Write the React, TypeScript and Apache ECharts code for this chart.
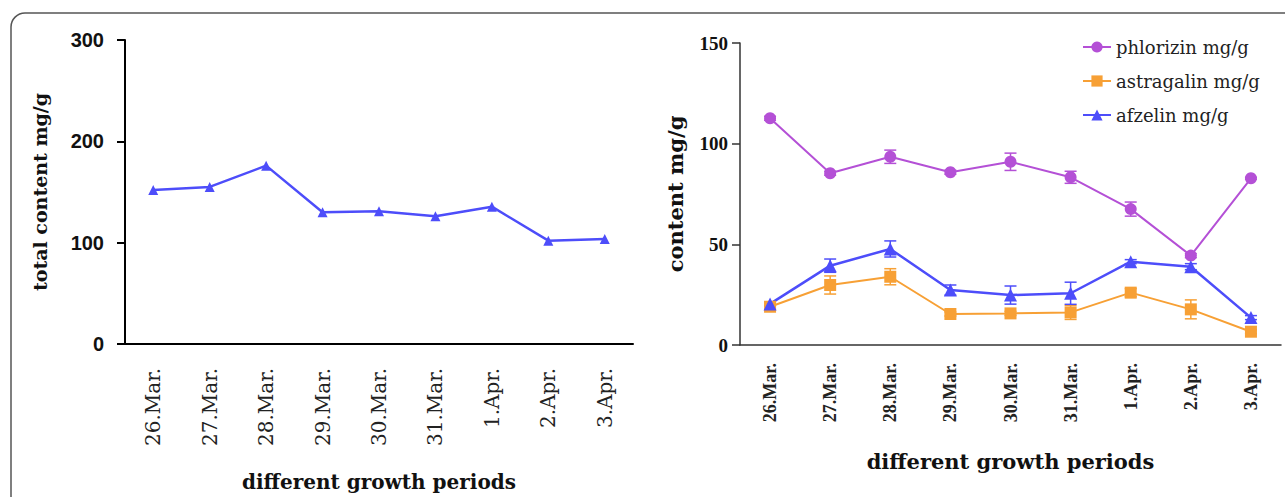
import React, { useEffect, useRef } from "react";
import * as echarts from "echarts";

const categories = ["26.Mar.", "27.Mar.", "28.Mar.", "29.Mar.", "30.Mar.", "31.Mar.", "1.Apr.", "2.Apr.", "3.Apr."];
const leftTicks = [0, 100, 200, 300];
const totalContent = [152, 155, 176, 130, 131, 126, 135.5, 102, 103.5];

const rightTicks = [0, 50, 100, 150];
const phlorizin = [112.6, 85.3, 93.5, 85.8, 91, 83.3, 67.5, 44.4, 82.8];
const astragalin = [19, 29.8, 33.9, 15.4, 15.7, 16.2, 26, 17.7, 6.6];
const afzelin = [20.4, 39.4, 47.7, 27.3, 24.8, 25.7, 41.4, 38.9, 13.6];
const phlorizinErr = [1, 1, 3.3, 1, 4.3, 3, 3.5, 1, 0.5];
const astragalinErr = [1.5, 4.5, 4, 1, 1, 3.5, 2, 4.7, 1];
const afzelinErr = [1, 3.3, 4, 2.5, 4.5, 5.5, 1, 1.5, 1];

const seriesNames = ["phlorizin mg/g", "astragalin mg/g", "afzelin mg/g"];
const PURPLE = "#b450d6";
const ORANGE = "#f7a035";
const BLUE = "#4d4dfa";

function errorSeries(values: number[], errs: number[], color: string) {
  return {
    type: "custom",
    xAxisIndex: 1,
    yAxisIndex: 1,
    z: 1,
    silent: true,
    encode: { x: 0, y: [1, 2] },
    data: values.map((v, i) => [i, v - errs[i], v + errs[i]]),
    renderItem: (params: any, api: any) => {
      const i = api.value(0);
      const lo = api.coord([i, api.value(1)]);
      const hi = api.coord([i, api.value(2)]);
      const cap = 6;
      const style = { stroke: color, lineWidth: 1.5 };
      return {
        type: "group",
        children: [
          { type: "line", shape: { x1: lo[0], y1: lo[1], x2: hi[0], y2: hi[1] }, style },
          { type: "line", shape: { x1: lo[0] - cap, y1: lo[1], x2: lo[0] + cap, y2: lo[1] }, style },
          { type: "line", shape: { x1: hi[0] - cap, y1: hi[1], x2: hi[0] + cap, y2: hi[1] }, style },
        ],
      };
    },
  };
}

export default function App() {
  const ref = useRef<HTMLDivElement>(null);
  useEffect(() => {
    if (!ref.current) return;
    const chart = echarts.init(ref.current, undefined, { renderer: "svg" });
    const serifBold = { fontFamily: "DejaVu Serif", fontWeight: "bold" as const, color: "#111" };
    chart.setOption({
      animation: false,
      backgroundColor: "#fff",
      graphic: [
        {
          type: "rect",
          z: -10,
          shape: { x: 11, y: 13, width: 1500, height: 700, r: 14 },
          style: { fill: "none", stroke: "#555", lineWidth: 1.5 },
        },
      ],
      legend: {
        orient: "vertical",
        left: 1077,
        top: 33,
        itemWidth: 28,
        itemHeight: 14,
        itemGap: 16,
        data: seriesNames,
        textStyle: { fontFamily: "DejaVu Serif", fontSize: 18, color: "#222" },
      },
      grid: [
        { left: 125, top: 40, width: 508, height: 304 },
        { left: 740, top: 43, width: 541, height: 302 },
      ],
      xAxis: [
        {
          type: "category",
          gridIndex: 0,
          data: categories,
          boundaryGap: true,
          axisLine: { lineStyle: { color: "#000", width: 2 } },
          axisTick: { alignWithLabel: true, length: 12, lineStyle: { color: "#000", width: 2 } },
          axisLabel: { rotate: 90, margin: 24, fontFamily: "DejaVu Serif", fontSize: 20, color: "#222" },
          name: "different growth periods",
          nameLocation: "middle",
          nameGap: 128,
          nameTextStyle: { ...serifBold, fontSize: 20 },
        },
        {
          type: "category",
          gridIndex: 1,
          data: categories,
          boundaryGap: true,
          axisLine: { lineStyle: { color: "#333", width: 1.5 } },
          axisTick: { alignWithLabel: true, length: 8, lineStyle: { color: "#333", width: 1.5 } },
          axisLabel: { rotate: 90, margin: 18, fontFamily: "Liberation Serif", fontWeight: "bold", fontSize: 18, color: "#222" },
          name: "different growth periods",
          nameLocation: "middle",
          nameGap: 106,
          nameTextStyle: { ...serifBold, fontSize: 21 },
        },
      ],
      yAxis: [
        {
          type: "value",
          gridIndex: 0,
          min: leftTicks[0],
          max: leftTicks[leftTicks.length - 1],
          interval: leftTicks[1] - leftTicks[0],
          splitLine: { show: false },
          axisLine: { show: true, lineStyle: { color: "#000", width: 2 } },
          axisTick: { show: true, length: 8, lineStyle: { color: "#000", width: 2 } },
          axisLabel: { margin: 21, fontFamily: "Liberation Sans", fontWeight: "bold", fontSize: 20, color: "#111" },
          name: "total content mg/g",
          nameLocation: "middle",
          nameGap: 76,
          nameTextStyle: { ...serifBold, fontSize: 19 },
        },
        {
          type: "value",
          gridIndex: 1,
          min: rightTicks[0],
          max: rightTicks[rightTicks.length - 1],
          interval: rightTicks[1] - rightTicks[0],
          splitLine: { show: false },
          axisLine: { show: true, lineStyle: { color: "#333", width: 1.5 } },
          axisTick: { show: true, length: 8, lineStyle: { color: "#333", width: 1.5 } },
          axisLabel: { margin: 12, fontFamily: "Liberation Serif", fontWeight: "bold", fontSize: 19, color: "#111" },
          name: "content mg/g",
          nameLocation: "middle",
          nameGap: 54,
          nameTextStyle: { ...serifBold, fontSize: 21 },
        },
      ],
      series: [
        {
          name: "total content",
          type: "line",
          xAxisIndex: 0,
          yAxisIndex: 0,
          data: totalContent,
          symbol: "triangle",
          symbolSize: 10,
          color: BLUE,
          lineStyle: { color: BLUE, width: 2.5 },
          itemStyle: { color: BLUE },
        },
        errorSeries(phlorizin, phlorizinErr, PURPLE),
        errorSeries(astragalin, astragalinErr, ORANGE),
        errorSeries(afzelin, afzelinErr, BLUE),
        {
          name: seriesNames[0],
          type: "line",
          xAxisIndex: 1,
          yAxisIndex: 1,
          z: 3,
          data: phlorizin,
          symbol: "circle",
          symbolSize: 12,
          color: PURPLE,
          lineStyle: { color: PURPLE, width: 2 },
          itemStyle: { color: PURPLE },
        },
        {
          name: seriesNames[1],
          type: "line",
          xAxisIndex: 1,
          yAxisIndex: 1,
          z: 3,
          data: astragalin,
          symbol: "rect",
          symbolSize: 12,
          color: ORANGE,
          lineStyle: { color: ORANGE, width: 2 },
          itemStyle: { color: ORANGE },
        },
        {
          name: seriesNames[2],
          type: "line",
          xAxisIndex: 1,
          yAxisIndex: 1,
          z: 3,
          data: afzelin,
          symbol: "triangle",
          symbolSize: 13,
          color: BLUE,
          lineStyle: { color: BLUE, width: 2.5 },
          itemStyle: { color: BLUE },
        },
      ],
    });
    return () => chart.dispose();
  }, []);
  return (
    <div
      ref={ref}
      style={{ position: "fixed", left: 0, top: 0, width: 1285, height: 497, background: "#fff" }}
    />
  );
}
